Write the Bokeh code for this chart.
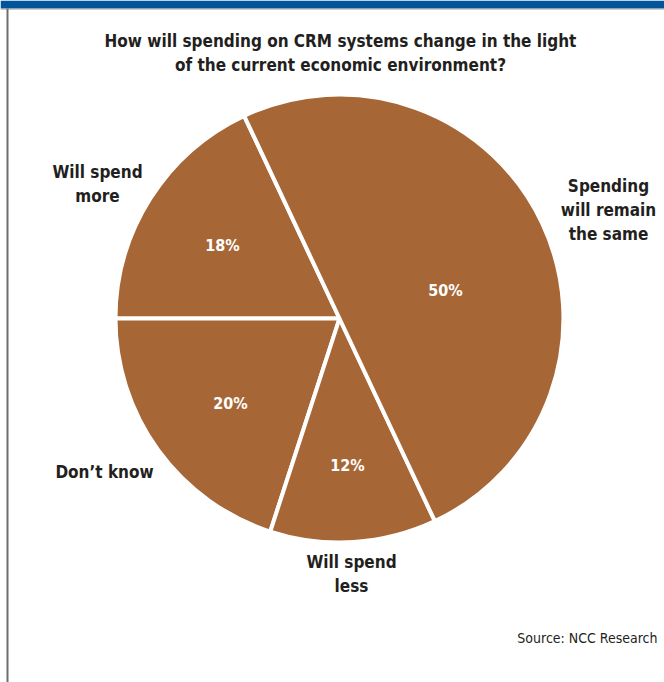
from bokeh.plotting import figure
from bokeh.models import Range1d, ColumnDataSource
from bokeh.core.properties import value
from bokeh.embed import file_html
from bokeh.resources import INLINE
import numpy as np

# ---- data ----
categories = ["Will spend\nmore", "Don\u2019t know", "Will spend\nless", "Spending\nwill remain\nthe same"]
shares = [18, 20, 12, 50]
pct_labels = ["18%", "20%", "12%", "50%"]
title_lines = "How will spending on CRM systems change in the light\nof the current economic environment?"
source_text = "Source: NCC Research"

W, H = 664, 682
FONT = "DejaVu Sans Condensed"
PIE = "#A76636"
INK = "#231F20"

p = figure(width=W, height=H, x_range=Range1d(0, W), y_range=Range1d(0, H),
           output_backend="svg", toolbar_location=None, min_border=0)
p.axis.visible = False
p.grid.visible = False
p.outline_line_color = None
p.background_fill_color = "white"
p.border_fill_color = "white"

def Y(py):
    return H - py

# frame: blue bar on top, grey rule at left
p.quad(left=[0], right=[W], top=[Y(0)], bottom=[Y(8)], fill_color="#02559B", line_color=None)
p.segment(x0=[0], y0=[Y(8.5)], x1=[W], y1=[Y(8.5)], line_color="#9A9A9A", line_width=1)
p.segment(x0=[7], y0=[Y(8)], x1=[7], y1=[Y(H)], line_color="#6E6E6E", line_width=2)

# pie
cx, cy, r = 339, Y(318), 224
start_deg = 115.2
fr = np.array(shares, dtype=float) / sum(shares)
cum = np.concatenate([[0], np.cumsum(fr)]) * 2 * np.pi
starts = np.radians(start_deg) + cum[:-1]
ends = np.radians(start_deg) + cum[1:]
src = ColumnDataSource(dict(start=starts, end=ends, cat=categories, v=shares))
p.wedge(x=cx, y=cy, radius=r, start_angle="start", end_angle="end", source=src,
        fill_color=PIE, line_color="white", line_width=4, direction="anticlock")

# percentage labels inside the slices
pct_pos = [(222, 245), (230, 403), (347, 465), (445, 290)]
p.text(x=[q[0] for q in pct_pos], y=[Y(q[1]) for q in pct_pos], text=pct_labels,
       text_font=value(FONT), text_font_style="bold", text_font_size="16px",
       text_color="white", text_align="center", text_baseline="middle")

# category labels outside
cat_pos = [(97, 183), (104, 471), (351, 573), (608, 209)]
p.text(x=[q[0] for q in cat_pos], y=[Y(q[1]) for q in cat_pos], text=categories,
       text_font=value(FONT), text_font_style="bold", text_font_size="17px",
       text_color=INK, text_align="center", text_baseline="middle", text_line_height=1.2)

# title
p.text(x=[340], y=[Y(52)], text=[title_lines], text_font=value(FONT), text_font_style="bold",
       text_font_size="17px", text_color=INK, text_align="center", text_baseline="middle",
       text_line_height=1.2)

# source
p.text(x=[657], y=[Y(637)], text=[source_text], text_font=value(FONT),
       text_font_size="14px", text_color=INK, text_align="right", text_baseline="middle")

open("out.html", "w").write(file_html(p, INLINE))
